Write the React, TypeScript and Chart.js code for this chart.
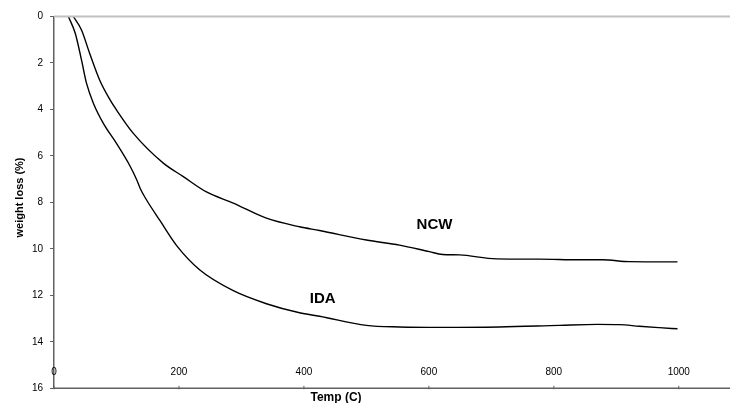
import React, { useEffect, useRef } from "react";
import { Chart, registerables } from "chart.js";

Chart.register(...registerables);

// IDA series: temperature (C) and weight loss (%)
const idaTemp = [23, 34, 44, 52, 63, 79, 100, 121, 132, 138, 146, 170, 196, 233, 287, 340, 393, 425, 500, 553, 620, 713, 809, 870, 905, 937, 969, 998];
const idaLoss = [0, 0.72, 1.87, 2.87, 3.73, 4.6, 5.46, 6.4, 7.0, 7.4, 7.8, 8.8, 9.85, 10.9, 11.8, 12.36, 12.75, 12.9, 13.29, 13.36, 13.38, 13.36, 13.29, 13.25, 13.26, 13.33, 13.39, 13.44];

// NCW series
const ncwTemp = [31, 44, 57, 73, 90, 100, 127, 175, 207, 244, 287, 340, 393, 425, 500, 553, 601, 622, 649, 708, 777, 841, 878, 921, 998];
const ncwLoss = [0, 0.58, 1.58, 2.73, 3.6, 4.02, 5.03, 6.31, 6.89, 7.55, 8.03, 8.68, 9.05, 9.21, 9.62, 9.84, 10.12, 10.24, 10.26, 10.43, 10.44, 10.47, 10.47, 10.55, 10.56];

// Tick labels
const xTicks = [0, 200, 400, 600, 800, 1000];
const yTicks = [0, 2, 4, 6, 8, 10, 12, 14, 16];

// Curve labels [name, temp, loss]
const curveLabels: [string, number, number][] = [
  ["NCW", 609, 8.96],
  ["IDA", 430, 12.14],
];

const FONT = "'Liberation Sans', Arial, sans-serif";

const axesPlugin = {
  id: "excelAxes",
  afterDraw(chart: any) {
    const ctx = chart.ctx as CanvasRenderingContext2D;
    const xs = chart.scales.x;
    const ys = chart.scales.y;
    const area = chart.chartArea;
    ctx.save();
    // top gray line at 0
    const y0 = ys.getPixelForValue(0);
    ctx.strokeStyle = "#c0c0c0";
    ctx.lineWidth = 2;
    ctx.beginPath();
    ctx.moveTo(area.left, y0);
    ctx.lineTo(area.right, y0);
    ctx.stroke();
    // bottom axis line
    const yb = ys.getPixelForValue(16);
    ctx.strokeStyle = "#606060";
    ctx.lineWidth = 1.5;
    ctx.beginPath();
    ctx.moveTo(area.left, yb);
    ctx.lineTo(area.right, yb);
    ctx.stroke();
    // x ticks and labels
    ctx.fillStyle = "#000";
    ctx.font = `10px ${FONT}`;
    ctx.textAlign = "center";
    ctx.textBaseline = "middle";
    ctx.lineWidth = 1;
    for (const t of xTicks) {
      const px = xs.getPixelForValue(t);
      ctx.beginPath();
      ctx.moveTo(px, yb - 2.5);
      ctx.lineTo(px, yb + 1);
      ctx.stroke();
      ctx.fillText(String(t), px, yb - 16.5);
    }
    // x title
    ctx.font = `bold 12px ${FONT}`;
    ctx.fillText("Temp (C)", 336, 397.5);
    // y title
    ctx.save();
    ctx.translate(19.5, 197.5);
    ctx.rotate(-Math.PI / 2);
    ctx.font = `bold 11px ${FONT}`;
    ctx.fillText("weight loss (%)", 0, 0);
    ctx.restore();
    // curve labels
    ctx.font = `bold 15px ${FONT}`;
    for (const [name, t, w] of curveLabels) {
      ctx.fillText(name, xs.getPixelForValue(t), ys.getPixelForValue(w));
    }
    ctx.restore();
  },
};

export default function App() {
  const ref = useRef<HTMLCanvasElement | null>(null);
  useEffect(() => {
    if (!ref.current) return;
    const chart = new Chart(ref.current, {
      type: "line",
      data: {
        datasets: [
          {
            label: "IDA",
            data: idaTemp.map((t, i) => ({ x: t, y: idaLoss[i] })),
            borderColor: "#000",
            borderWidth: 1.4,
            pointRadius: 0,
            cubicInterpolationMode: "monotone",
            fill: false,
          },
          {
            label: "NCW",
            data: ncwTemp.map((t, i) => ({ x: t, y: ncwLoss[i] })),
            borderColor: "#000",
            borderWidth: 1.4,
            pointRadius: 0,
            cubicInterpolationMode: "monotone",
            fill: false,
          },
        ],
      },
      options: {
        responsive: false,
        animation: false,
        devicePixelRatio: 1,
        layout: { padding: { left: 0, top: 16.5, right: 0, bottom: 14.7 } },
        plugins: { legend: { display: false }, tooltip: { enabled: false } },
        scales: {
          x: { type: "linear", display: false, min: 0, max: 1082 },
          y: {
            type: "linear",
            reverse: true,
            min: 0,
            max: 16,
            afterFit: (s: any) => {
              s.width = 54;
            },
            afterBuildTicks: (s: any) => {
              s.ticks = yTicks.map((v) => ({ value: v }));
            },
            ticks: {
              color: "#000",
              font: { family: FONT, size: 10 },
              padding: 7,
            },
            grid: {
              drawOnChartArea: false,
              drawTicks: true,
              tickLength: 4,
              color: "#606060",
              tickColor: "#606060",
            },
            border: { display: true, color: "#606060", width: 1.5 },
          },
        },
      },
      plugins: [axesPlugin],
    });
    return () => chart.destroy();
  }, []);
  return (
    <div style={{ position: "absolute", left: 0, top: 0, width: 730, height: 403, background: "#fff" }}>
      <canvas ref={ref} width={730} height={403} />
    </div>
  );
}
